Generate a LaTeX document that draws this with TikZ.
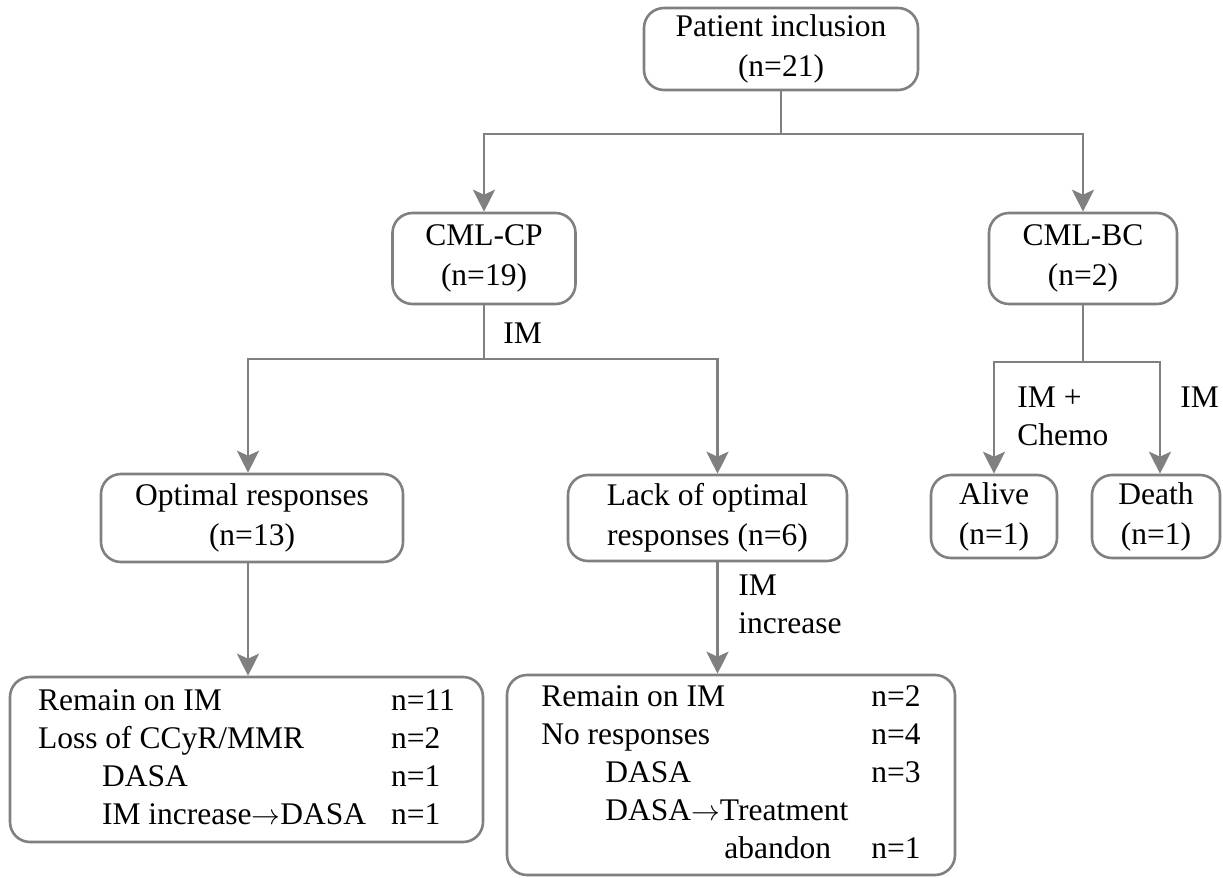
\documentclass[tikz,border=0pt]{standalone}
\usepackage{fontspec}
\setmainfont{Liberation Serif}
\usepackage{tikz}
\usetikzlibrary{arrows.meta}

\begin{document}
\begin{tikzpicture}[
                x=0.5pt, y=-0.5pt, % one unit is one pixel of the reference
                box/.style={draw=gray, line width=1.3pt, rounded corners=10pt, align=center, inner sep=0pt, font=\fontsize{15.75}{20}\selectfont}, % rounded box
                listbox/.style={box, font=\fontsize{15.75}{19}\selectfont}, % box holding a list
                lbl/.style={anchor=west, inner sep=0pt, align=left, font=\fontsize{15.75}{19}\selectfont}, % text beside a line
                link/.style={draw=gray, line width=1.3pt}, % plain connector
                arr/.style={link, -{Stealth[length=11pt, width=11pt, inset=2.5pt]}} % connector with head
                ]
                \useasboundingbox (0,0) rectangle (1223,878);
                % boxes
                \node[box, minimum width=137pt, minimum height=41pt] (incl) at (781,49) {Patient inclusion\\(n=21)};
                \node[box, minimum width=91.5pt, minimum height=45.5pt] (cp) at (484,258.5) {CML-CP\\(n=19)};
                \node[box, minimum width=94pt, minimum height=45.5pt] (bc) at (1083,258.5) {CML-BC\\(n=2)};
                \node[box, minimum width=151pt, minimum height=44pt] (opt) at (252,518) {Optimal responses\\(n=13)};
                \node[box, minimum width=139.5pt, minimum height=43pt] (lack) at (707.5,518) {Lack of optimal\\responses (n=6)};
                \node[box, minimum width=63pt, minimum height=41.5pt] (alive) at (994,516.5) {Alive\\(n=1)};
                \node[box, minimum width=64pt, minimum height=41.5pt] (death) at (1156,516.5) {Death\\(n=1)};
                \node[listbox, minimum width=236.5pt, minimum height=82.5pt] (keep1) at (246.5,759.5) {%
                  \begin{tabular}{@{}p{176.5pt}@{}l@{}}
                    Remain on IM & n=11\\
                    Loss of CCyR/MMR & n=2\\
                    \hspace*{32pt}DASA & n=1\\
                    \hspace*{32pt}IM increase$\rightarrow$DASA & n=1
                  \end{tabular}};
                \node[listbox, minimum width=224pt, minimum height=100pt] (keep2) at (731,775) {%
                  \begin{tabular}{@{}p{165pt}@{}l@{}}
                    Remain on IM & n=2\\
                    No responses & n=4\\
                    \hspace*{32pt}DASA & n=3\\
                    \hspace*{32pt}DASA$\rightarrow$Treatment & \\
                    \hspace*{91.5pt}abandon & n=1
                  \end{tabular}};
                % connectors
                \coordinate (j1) at (781,134);
                \draw[link] (incl.south) -- (j1);
                \draw[arr] (j1) -| (cp.north);
                \draw[arr] (j1) -| (bc.north);
                \coordinate (j2) at (484,359);
                \draw[link] (cp.south) -- (j2);
                \draw[arr] (j2) -| ([xshift=-2pt]opt.north);
                \draw[arr] (j2) -| ([xshift=5pt]lack.north);
                \draw[arr] ([xshift=-2pt]opt.south) -- ([xshift=-2pt]opt.south |- keep1.north);
                \draw[arr] ([xshift=5pt]lack.south) -- ([xshift=5pt]lack.south |- keep2.north);
                \coordinate (j3) at (1083,362);
                \draw[link] (bc.south) -- (j3);
                \draw[arr] (j3) -| (alive.north);
                \draw[arr] (j3) -| ([xshift=2pt]death.north);
                % labels on the lines
                \node[lbl] (imcp) at (503,333) {IM};
                \node[lbl] (imup) at (738,604) {IM\\increase};
                \node[lbl] (imchemo) at (1017,416) {IM +\\Chemo};
                \node[lbl] (imbc) at (1180,397) {IM};
            \end{tikzpicture}
\end{document}
